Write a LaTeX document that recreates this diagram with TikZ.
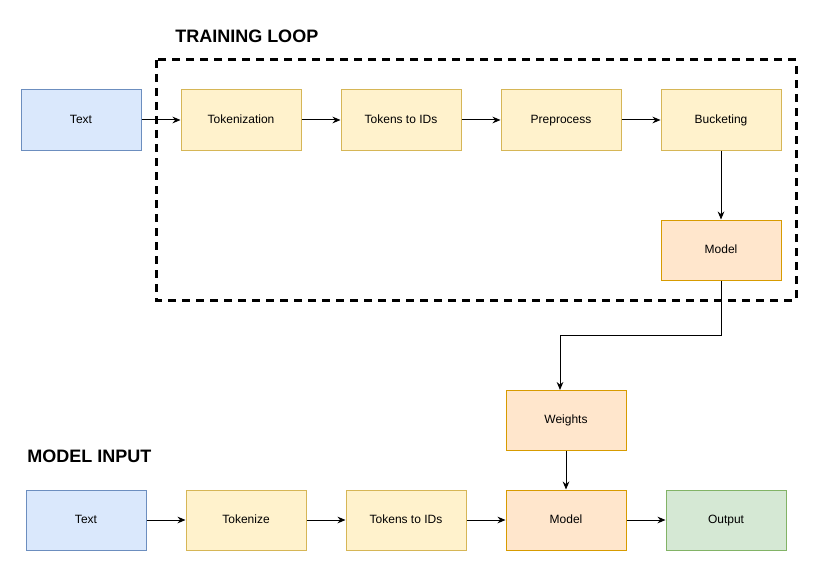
\documentclass[tikz,border=0pt]{standalone}
\usepackage{fontspec}
\setmainfont{Liberation Sans}
\usetikzlibrary{arrows.meta}
\definecolor{bfill}{HTML}{DAE8FC}\definecolor{bdraw}{HTML}{6C8EBF}
\definecolor{yfill}{HTML}{FFF2CC}\definecolor{ydraw}{HTML}{D6B656}
\definecolor{ofill}{HTML}{FFE6CC}\definecolor{odraw}{HTML}{D79B00}
\definecolor{gfill}{HTML}{D5E8D4}\definecolor{gdraw}{HTML}{82B366}
\begin{document}
\begin{tikzpicture}[x=0.75pt,y=-0.75pt,
  box/.style={rectangle,minimum width=90pt,minimum height=45pt,inner sep=0pt,text height=6.5pt,text depth=1.9pt,font=\fontsize{9}{11}\selectfont,line width=0.75pt},
  bluebox/.style={box,fill=bfill,draw=bdraw},
  yelbox/.style={box,fill=yfill,draw=ydraw},
  orabox/.style={box,fill=ofill,draw=odraw},
  grnbox/.style={box,fill=gfill,draw=gdraw},
  conn/.style={-{Stealth[length=6pt,width=5pt]},line width=0.75pt},
  title/.style={font=\fontsize{13.5}{16}\selectfont\bfseries,inner sep=0pt,anchor=west}]
\useasboundingbox (0,0) rectangle (823,581);
\draw[line width=2.25pt,dash pattern=on 6pt off 4.5pt] (156,60) rectangle (796,300);
\node[title] (t1) at (175,36) {TRAINING LOOP};
\node[title] (t2) at (27,456) {MODEL INPUT};
\node[bluebox] (text1) at (81,120) {Text};
\node[yelbox] (tok1) at (241,120) {Tokenization};
\node[yelbox] (ids1) at (401,120) {Tokens to IDs};
\node[yelbox] (pre) at (561,120) {Preprocess};
\node[yelbox] (buck) at (721,120) {Bucketing};
\node[orabox] (model1) at (721,250) {Model};
\node[orabox] (weights) at (566,420) {Weights};
\node[bluebox] (text2) at (86,520) {Text};
\node[yelbox] (tok2) at (246,520) {Tokenize};
\node[yelbox] (ids2) at (406,520) {Tokens to IDs};
\node[orabox] (model2) at (566,520) {Model};
\node[grnbox] (out) at (726,520) {Output};
\draw[conn] (text1) -- (tok1);
\draw[conn] (tok1) -- (ids1);
\draw[conn] (ids1) -- (pre);
\draw[conn] (pre) -- (buck);
\draw[conn] (buck) -- (model1);
\coordinate (c1) at (721,335);
\coordinate (c2) at (560,335);
\coordinate (c3) at (560,390);
\draw[conn] (model1.south) -- (c1) -- (c2) -- (c3);
\draw[conn] (weights) -- (model2);
\draw[conn] (text2) -- (tok2);
\draw[conn] (tok2) -- (ids2);
\draw[conn] (ids2) -- (model2);
\draw[conn] (model2) -- (out);
\end{tikzpicture}
\end{document}
